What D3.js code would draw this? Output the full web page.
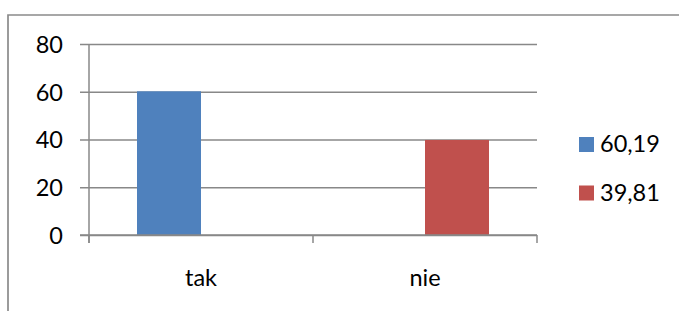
<!DOCTYPE html>
<html>
<head>
<meta charset="utf-8">
<script src="https://cdn.jsdelivr.net/npm/d3@7"></script>
<style>
  body { margin: 0; background: #fff; }
  text { font-family: Lato, "Open Sans", sans-serif; fill: #000; }
</style>
</head>
<body>
<div id="chart"></div>
<script>
var svgWidth = 679;
var svgHeight = 311;

// chart data
var categories = ["tak", "nie"];
var seriesNames = ["60,19", "39,81"];
var seriesValues = [[60.19, null], [null, 39.81]];
var seriesColors = ["#4F81BD", "#C0504D"];
var yTicks = [0, 20, 40, 60, 80];

var plot = { left: 89, right: 537, top: 44, bottom: 235 };
var fontSize = "23.5px";

var svg = d3.select("#chart")
  .append("svg")
  .attr("width", svgWidth)
  .attr("height", svgHeight);

// chart frame (only top and left edges are in view)
svg.append("path")
  .attr("d", "M8,311 V15 H679")
  .attr("fill", "none")
  .attr("stroke", "#8a8a8a")
  .attr("stroke-width", 1.7);

var xScale = d3.scaleBand()
  .domain(categories)
  .range([plot.left, plot.right])
  .padding(0);

var xInner = d3.scaleBand()
  .domain(seriesNames)
  .range([0, xScale.bandwidth()])
  .paddingInner(0)
  .paddingOuter(0.75);

var yScale = d3.scaleLinear()
  .domain([0, 80])
  .range([plot.bottom, plot.top]);

// gridlines + y labels
var leftAxis = d3.axisLeft(yScale)
  .tickValues(yTicks)
  .tickSize(-(plot.right - plot.left))
  .tickSizeOuter(0)
  .tickPadding(0)
  .tickFormat(d3.format("d"));

var yAxisG = svg.append("g")
  .attr("transform", `translate(${plot.left}, 0)`)
  .call(leftAxis);

yAxisG.select(".domain").remove();
yAxisG.selectAll(".tick line")
  .attr("x1", -9)
  .attr("stroke", "#888")
  .attr("stroke-width", 1.5);
yAxisG.selectAll(".tick text")
  .attr("x", -26)
  .attr("dy", "0.36em")
  .style("font-size", fontSize)
  .style("font-family", "Lato, sans-serif")
  .attr("fill", "#000");

// vertical axis line
svg.append("line")
  .attr("x1", plot.left).attr("x2", plot.left)
  .attr("y1", plot.top).attr("y2", plot.bottom + 8)
  .attr("stroke", "#888")
  .attr("stroke-width", 1.5);

// category ticks on the x axis
var xTickPos = categories.map(c => xScale(c)).concat([plot.right]);
svg.selectAll(".xtick")
  .data(xTickPos)
  .enter()
  .append("line")
  .attr("class", "xtick")
  .attr("x1", d => d).attr("x2", d => d)
  .attr("y1", plot.bottom).attr("y2", plot.bottom + 8)
  .attr("stroke", "#888")
  .attr("stroke-width", 1.5);

// bars
seriesNames.forEach(function(name, i) {
  var rows = categories.map((c, j) => ({ cat: c, value: seriesValues[i][j] }))
    .filter(d => d.value != null);
  svg.selectAll(".bar" + i)
    .data(rows)
    .enter()
    .append("rect")
    .attr("class", "bar" + i)
    .attr("x", d => xScale(d.cat) + xInner(name))
    .attr("width", xInner.bandwidth())
    .attr("y", d => yScale(d.value))
    .attr("height", d => yScale(0) - yScale(d.value))
    .attr("fill", seriesColors[i]);
});

// redraw x axis baseline over bars
svg.append("line")
  .attr("x1", plot.left - 9).attr("x2", plot.right)
  .attr("y1", plot.bottom).attr("y2", plot.bottom)
  .attr("stroke", "#888")
  .attr("stroke-width", 1.5);

// category labels
svg.selectAll(".catLabel")
  .data(categories)
  .enter()
  .append("text")
  .attr("class", "catLabel")
  .attr("x", d => xScale(d) + xScale.bandwidth() / 2)
  .attr("y", 286)
  .attr("text-anchor", "middle")
  .style("font-size", fontSize)
  .text(d => d);

// legend
var legend = svg.selectAll(".legend")
  .data(seriesNames)
  .enter()
  .append("g")
  .attr("class", "legend")
  .attr("transform", (d, i) => `translate(579, ${137 + i * 48.5})`);

legend.append("rect")
  .attr("width", 15)
  .attr("height", 15)
  .attr("fill", (d, i) => seriesColors[i]);

legend.append("text")
  .attr("x", 21)
  .attr("y", 15)
  .style("font-size", fontSize)
  .text(d => d);
</script>
</body>
</html>
